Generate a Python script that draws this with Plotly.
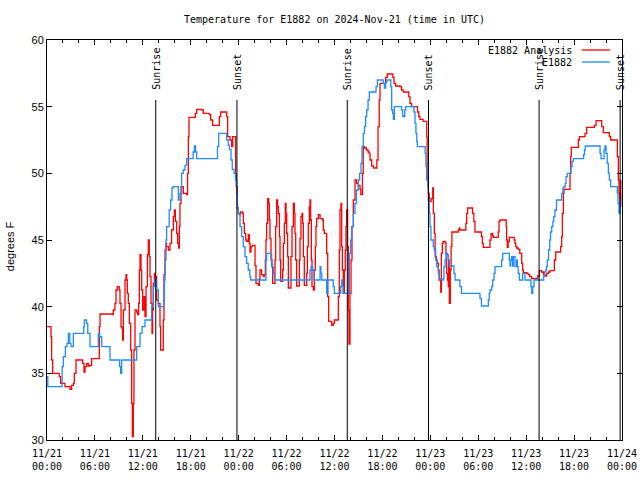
import pandas as pd
import plotly.graph_objects as go

BASE = pd.Timestamp("2024-11-21 00:00")

# E1882 observed (hours since 2024-11-21 00:00 UTC, deg F)
obs_hours = [0.0, 0.1, 1.7, 1.9, 2.05, 2.3, 2.5, 2.67, 2.85, 3.0, 3.3, 4.47, 4.6, 4.68, 4.95, 5.1, 5.38, 6.2, 6.43, 6.6,
             6.85, 7.68, 7.89, 8.93, 9.1, 9.22, 9.35, 11.02, 11.23, 11.65, 11.9, 12.27, 12.9, 13.1, 13.3, 13.5, 13.7,
             13.94, 14.48, 14.6, 14.7, 14.78, 14.9, 14.98, 15.3, 15.48, 15.65, 15.8, 16.3, 16.45, 16.65, 16.86, 17.07,
             17.28, 17.49, 18.1, 18.3, 18.45, 18.6, 18.74, 21.25, 21.35, 21.5, 22.4, 22.5, 22.7, 22.85, 23.04, 23.2,
             23.42, 23.6, 23.75, 23.83, 23.96, 24.17, 24.37, 24.58, 24.79, 25.0, 25.2, 25.4, 25.5, 27.3, 27.42, 27.5,
             28.0, 28.13, 28.34, 28.47, 32.7, 32.93, 33.06, 33.27, 33.43, 33.98, 34.19, 34.3, 34.4, 34.8, 35.02,
             35.15, 35.65, 35.85, 35.98, 36.6, 36.77, 36.9, 37.02, 37.1, 37.73, 37.86, 38.02, 38.15, 38.36, 38.57,
             38.75, 38.98, 39.15, 39.32, 39.45, 39.6, 39.75, 39.9, 40.03, 40.2, 40.36, 41.07, 41.2, 41.37, 42.03,
             42.1, 42.24, 42.4, 42.53, 42.95, 43.05, 43.16, 43.28, 43.37, 43.49, 44.29, 44.4, 44.54, 44.65, 44.8,
             44.92, 45.87, 45.95, 46.08, 46.2, 46.3, 46.37, 47.2, 47.35, 47.45, 47.54, 47.75, 47.87, 47.96, 48.08,
             48.3, 48.37, 48.5, 48.67, 48.8, 49.0, 49.13, 49.42, 49.63, 49.71, 49.84, 49.96, 50.13, 50.25, 50.38,
             50.88, 50.96, 51.1, 51.6, 51.7, 51.9, 54.1, 54.22, 54.4, 55.1, 55.26, 55.38, 55.47, 55.68, 55.8, 55.97,
             56.1, 56.8, 56.93, 57.06, 57.8, 57.89, 57.98, 58.06, 58.18, 58.3, 58.39, 58.6, 58.81, 58.9, 59.0, 59.15,
             59.44, 59.56, 59.73, 59.86, 60.5, 60.6, 60.7, 60.82, 60.98, 62.15, 62.2, 62.3, 62.45, 62.55, 62.65, 62.8,
             62.95, 63.05, 63.2, 63.35, 63.45, 63.6, 63.8, 64.3, 64.45, 64.6, 64.74, 64.9, 65.0, 65.15, 65.5, 65.6,
             65.75, 65.9, 67.08, 67.2, 67.3, 67.4, 69.16, 69.25, 69.37, 69.66, 69.75, 69.87, 70.0, 70.15, 70.29,
             70.42, 70.58, 71.33, 71.42, 71.5, 71.62, 71.75, 71.9]
obs_temp = [34.75, 34.0, 34.0, 35.5, 36.25, 37.0, 37.25, 38.0, 37.25, 37.0, 38.0, 38.0, 38.5, 39.0, 38.75, 38.0, 37.0,
            37.0, 38.0, 37.75, 37.0, 37.0, 36.0, 36.0, 35.5, 35.0, 36.0, 36.0, 37.0, 38.0, 38.5, 39.0, 39.0, 40.0,
            41.5, 42.0, 41.25, 40.0, 40.0, 40.5, 42.0, 43.5, 45.0, 46.0, 47.25, 48.0, 48.9, 49.0, 49.0, 48.0, 48.5,
            50.0, 50.25, 50.6, 51.1, 51.1, 51.6, 52.05, 51.6, 51.1, 51.1, 52.0, 53.0, 53.0, 52.5, 52.1, 51.8, 51.0,
            50.3, 50.0, 49.5, 48.5, 47.4, 47.0, 46.0, 45.25, 44.5, 43.75, 43.25, 42.75, 42.25, 42.0, 42.0, 43.5,
            44.0, 44.0, 43.0, 42.5, 42.0, 42.0, 42.75, 43.0, 42.75, 42.0, 42.0, 43.0, 42.5, 42.0, 42.0, 41.0, 42.0,
            42.0, 41.5, 41.0, 41.0, 41.5, 42.0, 41.5, 41.0, 41.0, 44.0, 45.0, 46.0, 47.0, 47.75, 48.75, 49.5, 50.0,
            50.75, 52.0, 53.0, 53.5, 54.25, 54.75, 55.5, 56.1, 56.1, 56.5, 57.0, 57.0, 56.75, 56.4, 56.8, 57.0,
            57.0, 56.5, 54.75, 54.5, 54.05, 55.0, 55.0, 54.75, 54.3, 54.25, 54.75, 55.0, 55.0, 54.6, 53.75, 53.0,
            52.4, 52.0, 52.0, 51.5, 50.5, 49.5, 48.0, 47.0, 46.0, 45.0, 45.0, 44.5, 44.25, 43.5, 43.0, 42.5, 42.1,
            42.0, 42.1, 43.0, 43.5, 44.0, 43.9, 43.5, 43.05, 43.05, 42.5, 42.0, 42.0, 41.5, 41.0, 41.0, 40.6, 40.05,
            40.05, 40.5, 41.0, 41.25, 41.5, 42.0, 42.5, 43.0, 43.0, 43.5, 44.0, 44.0, 43.5, 43.05, 43.5, 43.75,
            43.05, 43.75, 43.0, 43.5, 43.0, 42.5, 42.0, 42.0, 42.5, 42.5, 42.0, 42.0, 41.5, 41.0, 41.5, 42.0, 42.0,
            42.4, 42.6, 42.75, 43.0, 43.5, 44.25, 45.0, 45.6, 46.0, 46.4, 46.75, 47.25, 48.0, 48.0, 48.5, 48.9,
            49.0, 49.25, 49.75, 50.0, 50.0, 50.5, 50.9, 51.1, 51.1, 51.4, 51.75, 52.05, 52.05, 51.5, 51.1, 51.1,
            51.75, 52.05, 51.5, 50.75, 50.0, 49.5, 49.0, 49.0, 48.5, 47.75, 47.0, 48.0, 48.0]

# E1882 Analysis
ana_hours = [0.0, 0.38, 0.5, 0.58, 0.71, 1.42, 1.54, 1.71, 2.25, 2.88, 3.09, 3.3, 3.42, 3.63, 4.34, 4.47, 4.63, 4.76,
             4.97, 5.17, 5.38, 5.59, 6.43, 6.55, 6.64, 8.23, 8.3, 8.51, 8.64, 8.8, 9.05, 9.14, 9.27, 9.35, 9.47, 9.56,
             9.77, 9.89, 9.98, 10.06, 10.18, 10.31, 10.48, 10.6, 10.69, 10.81, 10.89, 11.02, 11.23, 11.35, 11.48,
             11.56, 11.65, 11.77, 11.85, 11.98, 12.15, 12.27, 12.4, 12.57, 12.69, 12.81, 12.9, 13.02, 13.15, 13.23,
             13.32, 13.44, 13.52, 13.73, 13.94, 14.15, 14.23, 14.48, 14.56, 14.65, 14.78, 14.9, 14.98, 15.19, 15.4,
             15.6, 15.82, 15.95, 16.07, 16.24, 16.36, 16.49, 16.57, 16.65, 16.78, 16.95, 17.07, 17.49, 17.6, 17.7,
             17.78, 18.4, 18.57, 18.74, 19.37, 19.57, 20.32, 20.49, 20.74, 21.33, 21.58, 21.75, 22.41, 22.5, 22.62,
             22.91, 23.12, 23.25, 23.54, 23.62, 23.7, 23.83, 23.96, 24.08, 24.25, 24.5, 24.58, 24.71, 24.88, 25.0,
             25.2, 25.33, 25.42, 25.54, 25.71, 25.92, 26.05, 26.17, 26.46, 26.59, 26.67, 26.88, 27.09, 27.21, 27.34,
             27.42, 27.5, 27.63, 27.76, 27.84, 27.92, 28.05, 28.17, 28.26, 28.47, 28.55, 28.63, 28.76, 28.88, 28.97,
             29.1, 29.18, 29.26, 29.43, 29.51, 29.6, 29.72, 29.84, 29.93, 30.01, 30.13, 30.22, 30.43, 30.55, 30.68,
             30.85, 30.97, 31.05, 31.14, 31.26, 31.47, 31.6, 31.68, 31.8, 31.93, 32.01, 32.1, 32.22, 32.43, 32.52,
             32.6, 32.72, 32.85, 32.93, 33.01, 33.1, 33.18, 33.35, 33.47, 33.6, 33.68, 33.77, 33.98, 34.19, 34.52,
             34.6, 34.72, 34.94, 35.02, 35.15, 35.27, 35.52, 35.65, 35.85, 35.98, 36.35, 36.48, 36.6, 36.69, 36.81,
             36.9, 36.98, 37.1, 37.23, 37.35, 37.44, 37.52, 37.64, 37.73, 37.81, 37.94, 38.07, 38.19, 38.36, 38.57,
             38.77, 38.98, 39.2, 39.3, 39.4, 39.5, 39.6, 39.75, 40.0, 40.2, 40.35, 40.45, 40.66, 40.9, 41.2, 41.3,
             41.45, 41.6, 41.7, 42.3, 42.4, 42.6, 43.16, 43.3, 43.45, 43.66, 44.2, 44.4, 44.6, 45.2, 45.3, 45.45,
             45.66, 46.3, 46.4, 46.55, 46.7, 47.1, 47.46, 47.55, 47.6, 47.7, 47.75, 47.88, 48.1, 48.3, 48.38, 48.5,
             48.6, 48.75, 48.85, 49.0, 49.1, 49.25, 49.3, 49.38, 49.5, 49.6, 49.85, 49.96, 50.05, 50.15, 50.25, 50.3,
             50.38, 50.5, 50.6, 50.7, 51.4, 51.5, 51.63, 51.7, 52.34, 52.45, 52.55, 52.67, 53.18, 53.28, 53.45,
             53.59, 54.22, 54.4, 54.52, 54.63, 55.38, 55.47, 55.6, 55.7, 55.8, 55.89, 56.39, 56.5, 56.6, 56.72,
             57.44, 57.5, 57.55, 57.64, 57.75, 57.89, 58.39, 58.5, 58.6, 58.7, 58.81, 59.0, 59.2, 59.44, 59.56,
             59.65, 60.07, 60.25, 60.45, 60.7, 61.32, 61.45, 61.65, 61.93, 62.15, 62.36, 62.57, 62.78, 62.99, 63.4,
             63.53, 63.7, 64.24, 64.32, 64.45, 64.53, 64.66, 64.74, 65.4, 65.49, 65.57, 65.65, 66.4, 66.53, 66.66,
             67.24, 67.37, 67.58, 68.41, 68.54, 68.75, 69.33, 69.46, 69.66, 70.29, 70.42, 70.58, 71.33, 71.42,
             71.54, 71.62, 71.72, 71.85]
ana_temp = [38.5, 38.5, 37.75, 36.0, 35.0, 35.0, 34.75, 34.25, 34.0, 33.8, 34.1, 34.25, 35.0, 36.0, 36.0, 35.75, 35.1,
            35.5, 35.75, 35.55, 35.6, 36.1, 36.1, 38.5, 39.45, 39.4, 39.75, 40.25, 41.25, 41.5, 41.25, 40.25, 38.5,
            38.4, 37.5, 39.75, 42.0, 42.4, 42.0, 41.0, 40.25, 38.75, 36.75, 32.75, 30.25, 32.75, 36.75, 39.75, 39.6,
            39.4, 40.25, 42.75, 43.9, 42.75, 41.25, 39.75, 40.75, 39.25, 41.5, 43.9, 45.0, 43.75, 42.25, 40.25, 38.0,
            39.75, 41.75, 42.5, 42.25, 40.5, 40.25, 38.5, 36.75, 36.75, 39.0, 42.4, 44.25, 44.75, 44.5, 44.25, 44.75,
            45.75, 46.75, 47.25, 46.4, 45.5, 44.75, 44.4, 46.0, 47.75, 49.0, 49.0, 48.5, 48.4, 50.0, 52.75, 54.2,
            54.2, 54.5, 54.8, 54.75, 54.5, 54.4, 54.0, 53.6, 53.6, 54.25, 54.6, 54.6, 54.25, 52.75, 52.5, 52.0,
            52.75, 52.75, 50.0, 49.0, 47.4, 47.0, 46.9, 47.1, 47.0, 46.25, 45.5, 45.0, 44.9, 45.4, 44.75, 44.1, 44.5,
            44.6, 44.6, 43.1, 41.75, 41.6, 42.1, 42.75, 42.4, 42.25, 42.4, 43.5, 45.0, 46.25, 48.1, 47.75, 46.5,
            45.1, 43.5, 43.0, 41.75, 41.75, 43.5, 46.0, 48.0, 47.5, 47.0, 45.25, 43.5, 41.9, 41.9, 42.75, 44.75,
            46.25, 47.75, 47.0, 45.5, 43.75, 41.4, 41.4, 43.75, 46.0, 47.75, 47.0, 45.5, 43.5, 41.55, 41.55, 43.5,
            45.1, 46.75, 47.0, 46.25, 43.75, 41.6, 41.6, 42.5, 44.5, 46.25, 47.5, 48.0, 46.5, 43.5, 41.5, 41.25,
            42.75, 44.5, 46.0, 46.6, 46.9, 46.6, 46.5, 45.75, 45.5, 45.5, 44.0, 40.75, 38.9, 38.9, 38.6, 38.75,
            39.0, 39.0, 40.75, 44.25, 47.25, 47.75, 44.5, 42.75, 41.0, 42.75, 44.25, 46.0, 47.25, 44.5, 39.75, 37.2,
            41.0, 43.5, 46.0, 48.0, 49.5, 49.25, 49.1, 48.8, 48.4, 48.4, 50.0, 52.0, 51.9, 51.75, 51.6, 51.5, 51.0,
            50.55, 50.4, 50.4, 51.0, 53.5, 55.5, 56.75, 56.75, 57.2, 57.45, 57.45, 57.2, 56.75, 56.55, 56.5, 56.25,
            56.1, 56.1, 55.75, 55.25, 55.0, 55.0, 54.6, 54.25, 54.05, 53.9, 53.9, 52.75, 49.6, 49.0, 48.5, 47.9,
            48.1, 48.9, 47.0, 45.5, 43.75, 43.5, 43.25, 42.75, 42.0, 42.0, 41.1, 44.0, 44.75, 44.9, 44.8, 44.0,
            42.5, 42.0, 41.5, 43.5, 40.25, 42.75, 44.5, 45.6, 45.6, 45.75, 45.9, 45.75, 45.75, 46.25, 47.0, 47.4,
            47.4, 47.0, 46.4, 45.6, 45.6, 45.25, 44.75, 44.45, 44.45, 45.0, 45.45, 45.5, 45.3, 45.2, 45.2, 45.6,
            46.4, 46.5, 46.5, 46.0, 45.0, 44.45, 44.9, 45.2, 45.2, 45.0, 44.75, 44.5, 44.4, 44.3, 44.0, 43.25,
            42.75, 42.55, 42.5, 42.4, 42.25, 42.1, 42.1, 42.3, 42.7, 42.6, 42.4, 42.3, 42.5, 42.6, 42.7, 42.7, 43.5,
            44.1, 44.1, 44.5, 45.25, 47.0, 48.5, 48.8, 48.8, 50.0, 51.25, 51.95, 51.95, 52.5, 52.75, 52.75, 53.0,
            53.45, 53.45, 53.6, 53.95, 53.95, 53.5, 53.05, 53.05, 52.75, 52.5, 52.5, 51.25, 49.5, 48.5, 47.5, 49.5]

# Sun events (UTC)
sun_times = ["2024-11-21 13:37", "2024-11-21 23:47", "2024-11-22 13:36", "2024-11-22 23:46",
             "2024-11-23 13:37", "2024-11-23 23:46"]
sun_labels = ["Sunrise", "Sunset", "Sunrise", "Sunset", "Sunrise", "Sunset"]

series_names = ["E1882 Analysis", "E1882"]
series_colors = ["#ff0000", "#1e8cff"]

obs_t = BASE + pd.to_timedelta(obs_hours, unit="h")
ana_t = BASE + pd.to_timedelta(ana_hours, unit="h")

MONO = "DejaVu Sans Mono"

fig = go.Figure()
fig.add_trace(go.Scatter(x=ana_t, y=ana_temp, mode="lines", name=series_names[0],
                         line=dict(color=series_colors[0], width=1.3, shape="hv")))
fig.add_trace(go.Scatter(x=obs_t, y=obs_temp, mode="lines", name=series_names[1],
                         line=dict(color=series_colors[1], width=1.3, shape="hv")))

shapes = []
annotations = []
for t, lab in zip(sun_times, sun_labels):
    shapes.append(dict(type="line", xref="x", yref="paper", x0=t, x1=t, y0=0, y1=0.85,
                       line=dict(color="black", width=1)))
    annotations.append(dict(x=t, xref="x", y=0.87, yref="paper", text=lab, textangle=-90,
                            showarrow=False, xanchor="center", yanchor="bottom",
                            font=dict(family=MONO, size=10, color="black")))

# gnuplot-style legend: text right-aligned, line sample to the right
leg_y = [0.975, 0.945]
for name, col, yy in zip(series_names, series_colors, leg_y):
    annotations.append(dict(x=0.9165, xref="paper", y=yy, yref="paper", text=name, showarrow=False,
                            xanchor="right", yanchor="middle",
                            font=dict(family=MONO, size=10, color="black")))
    shapes.append(dict(type="line", xref="paper", yref="paper", x0=0.930, x1=0.979, y0=yy, y1=yy,
                       line=dict(color=col, width=1.3)))

# y-axis label placed like gnuplot's
annotations.append(dict(x=-0.064, xref="paper", y=0.485, yref="paper", text="degrees F", textangle=-90,
                        showarrow=False, xanchor="center", yanchor="middle",
                        font=dict(family="Liberation Sans", size=11, color="black")))

fig.update_layout(
    width=640, height=480, autosize=False,
    margin=dict(l=47, r=18, t=40, b=40),
    paper_bgcolor="white", plot_bgcolor="white",
    showlegend=False, hovermode=False,
    title=dict(text="Temperature for E1882 on 2024-Nov-21 (time in UTC)", x=0.5, xref="paper",
               y=1 - 19 / 480, yref="container", xanchor="center", yanchor="middle",
               font=dict(family=MONO, size=10, color="black")),
    shapes=shapes, annotations=annotations,
)
fig.update_xaxes(type="date", range=["2024-11-21 00:00", "2024-11-24 00:00"], automargin=False,
                 tick0="2024-11-21 00:00", dtick=6 * 3600 * 1000, tickformat="%m/%d<br>%H:%M",
                 ticks="inside", ticklen=5, tickcolor="black", mirror="allticks",
                 ticklabelstandoff=4, ticklabeloverflow="allow",
                 showline=True, linecolor="black", linewidth=1, showgrid=False, zeroline=False,
                 minor=dict(dtick=2 * 3600 * 1000, ticks="inside", ticklen=3, tickcolor="black", showgrid=False),
                 tickfont=dict(family=MONO, size=10, color="black"))
fig.update_yaxes(range=[30, 60], dtick=5, ticks="inside", ticklen=5, tickcolor="black", mirror="allticks",
                 automargin=False,
                 showline=True, linecolor="black", linewidth=1, showgrid=False, zeroline=False,
                 tickfont=dict(family="Liberation Sans", size=11, color="black"))

# remove the default 8px page margin so the 640x480 figure fills the window exactly
fig.write_html("out.html", config={"displayModeBar": False},
               post_script="document.body.style.margin='0';document.body.style.overflow='hidden';")
